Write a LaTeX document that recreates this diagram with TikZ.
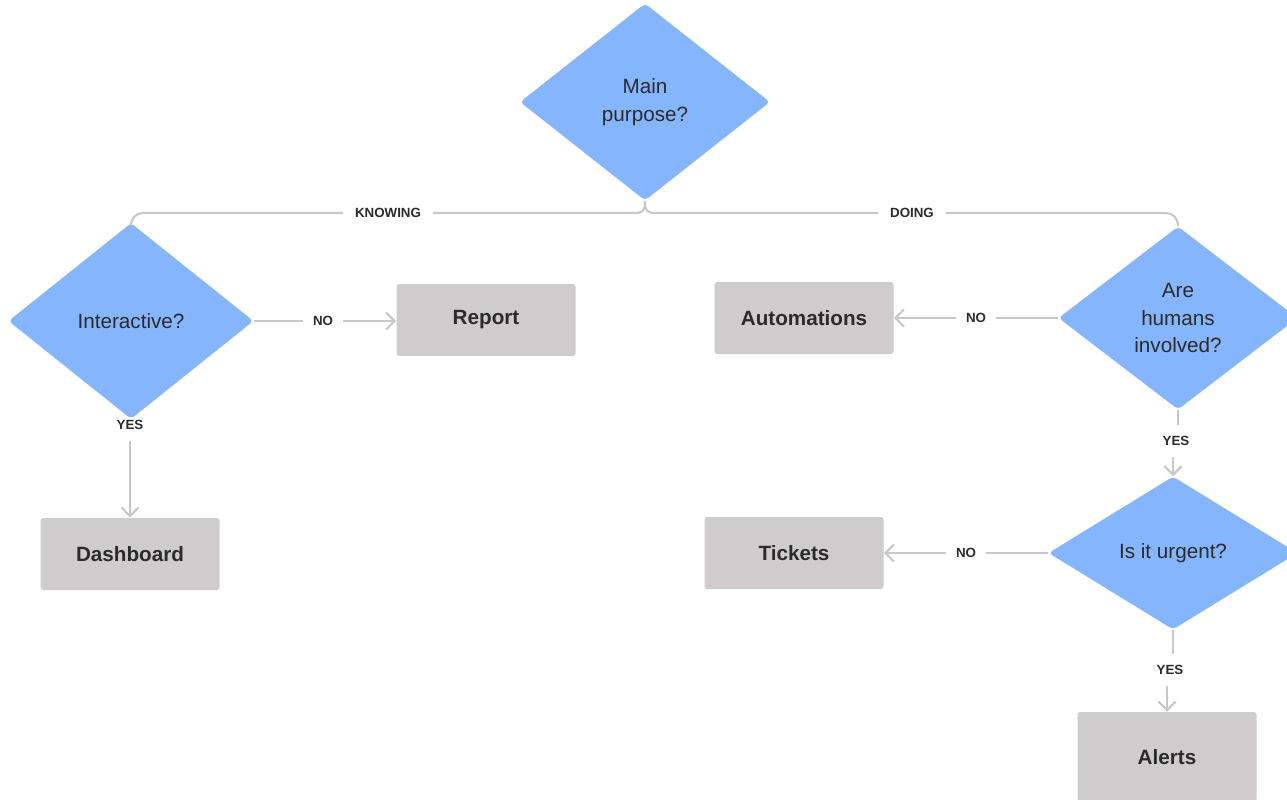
\documentclass[tikz,border=0pt]{standalone}
\usepackage{fontspec}
\setmainfont{Liberation Sans}
\usetikzlibrary{shapes.geometric,arrows.meta}
\definecolor{diafill}{HTML}{85B6FD}
\definecolor{boxfill}{HTML}{CECCCD}
\definecolor{ink}{HTML}{2B2B2B}
\definecolor{wirecol}{HTML}{C8C8C8}
\begin{document}
\begin{tikzpicture}[x=0.75pt,y=-0.75pt,
  decision/.style={diamond, fill=diafill, rounded corners=3pt, inner sep=0pt,
    align=center, text=ink, font=\fontsize{15.5}{20.5}\selectfont},
  outcome/.style={rectangle, fill=boxfill, rounded corners=2pt,
    minimum width=134.25pt, minimum height=54pt, text=ink,
    font=\fontsize{15.5}{19}\selectfont\bfseries},
  tag/.style={text=ink, font=\fontsize{10}{12}\selectfont\bfseries,
    inner xsep=7.5pt, inner ysep=2pt},
  vtag/.style={tag, inner xsep=2pt, inner ysep=8.5pt},
  wire/.style={draw=wirecol, line width=1.6pt},
  arr/.style={wire, -{Straight Barb[length=6.5pt,width=13pt]}}
]
\useasboundingbox (0,0) rectangle (1287,799);
\clip (0,0) rectangle (1287,799);

% decisions
\node[decision, minimum width=187.5pt, minimum height=147.75pt] (main) at (645,102) {Main\\purpose?};
\node[decision, minimum width=183.75pt, minimum height=147pt] (inter) at (131,321) {Interactive?};
\node[decision, minimum width=179.25pt, minimum height=137.25pt] (humans) at (1178,318) {Are\\humans\\involved?};
\node[decision, minimum width=186.75pt, minimum height=114.75pt] (urgent) at (1173,553) {Is it urgent?};

% outcomes
\node[outcome] (report) at (486,320) {Report};
\node[outcome] (autom) at (804,318) {Automations};
\node[outcome] (dash) at (130,554) {Dashboard};
\node[outcome] (tickets) at (794,553) {Tickets};
\node[outcome, minimum height=67.5pt] (alerts) at (1167,757) {Alerts};

% branch labels
\node[tag] (noI) at (323,321) {NO};
\node[tag] (noH) at (976,318) {NO};
\node[tag] (noU) at (966,553) {NO};
\node[vtag] (yesI) at (130,425) {YES};
\node[vtag] (yesH) at (1176,441) {YES};
\node[vtag] (yesU) at (1170,670) {YES};
\node[tag, inner xsep=9pt] (know) at (388,213) {KNOWING};
\node[tag, inner xsep=9pt] (doing) at (912,213) {DOING};

% top split
\draw[wire] (main.south) -- (645,204) .. controls (645,210) and (642,213) .. (636,213) -- (know.east);
\draw[wire, rounded corners=9pt] (know.west) -- (131,213) -- (inter.north);
\draw[wire] (main.south) -- (645,204) .. controls (645,210) and (648,213) .. (654,213) -- (doing.west);
\draw[wire, rounded corners=9pt] (doing.east) -- (1178,213) -- (humans.north);

% horizontal branches
\draw[wire] (inter) -- (noI);
\draw[arr] (noI) -- (noI -| report.west);
\draw[wire] (humans) -- (noH);
\draw[arr] (noH) -- (autom);
\draw[wire] (urgent) -- (noU);
\draw[arr] (noU) -- (tickets);

% vertical branches
\draw[arr] (yesI) -- (dash);
\draw[wire] (humans.south) -- (humans.south |- yesH.north);
\draw[arr] (urgent.north |- yesH.south) -- (urgent.north);
\draw[wire] (urgent.south) -- (urgent.south |- yesU.north);
\draw[arr] (alerts.north |- yesU.south) -- (alerts.north);
\end{tikzpicture}
\end{document}
